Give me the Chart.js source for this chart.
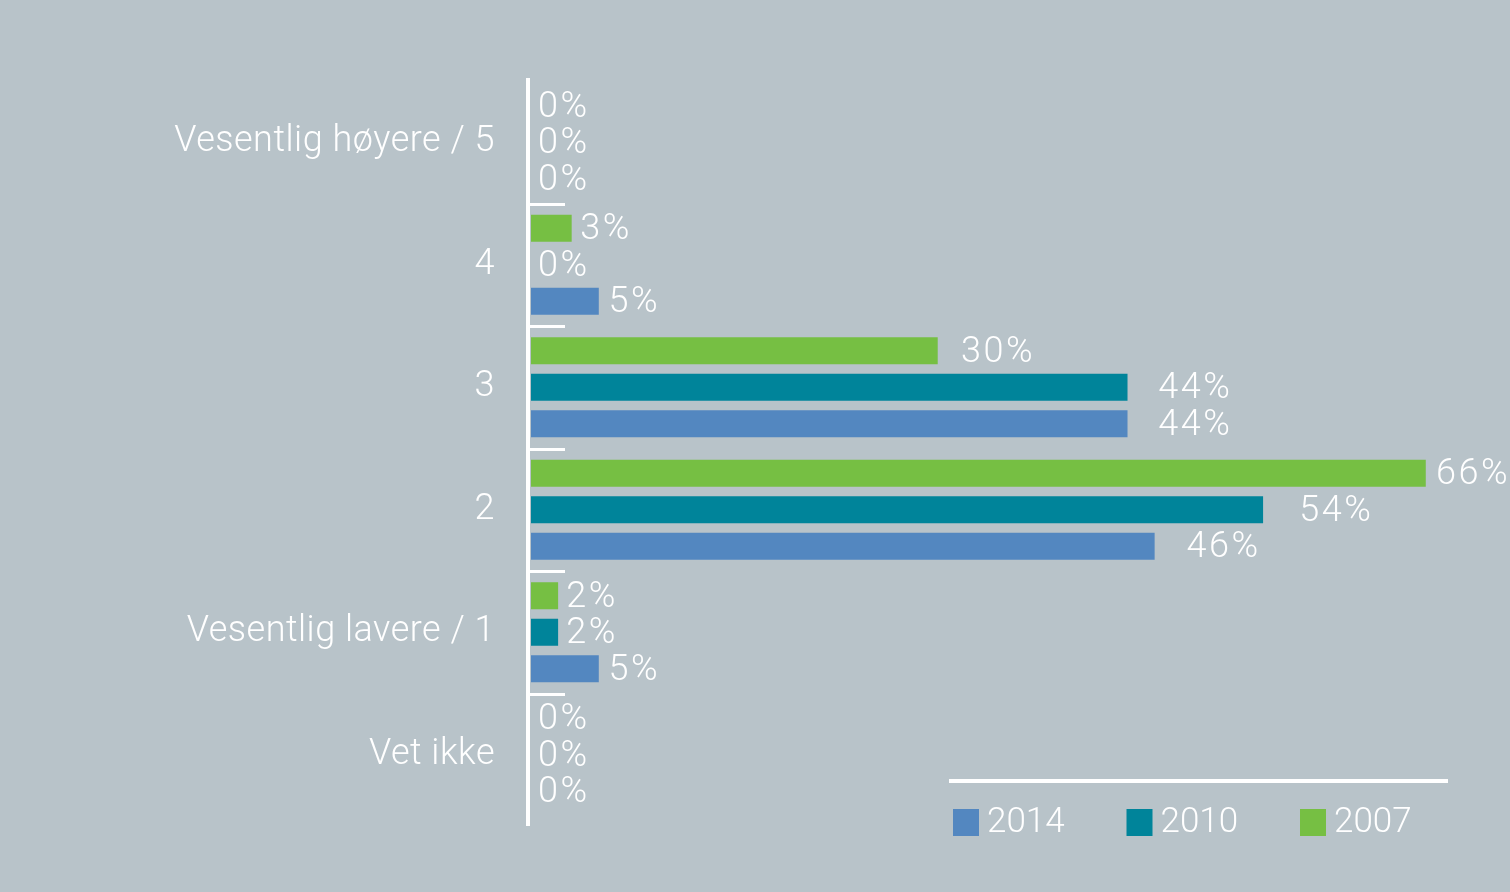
<!DOCTYPE html>
<html>
<head>
<meta charset="utf-8">
<script src="https://cdn.jsdelivr.net/npm/chart.js@4/dist/chart.umd.min.js"></script>
<style>
  html, body { margin: 0; padding: 0; background: #b8c3c9; }
  canvas { display: block; }
</style>
</head>
<body>
<canvas id="chart" width="1510" height="892"></canvas>
<script>
// categorias (de cima para baixo)
const categories = ['Vesentlig høyere / 5', '4', '3', '2', 'Vesentlig lavere / 1', 'Vet ikke'];
const seriesNames = ['2007', '2010', '2014'];
const values2007 = [0, 3, 30, 66, 2, 0];
const values2010 = [0, 0, 44, 54, 2, 0];
const values2014 = [0, 5, 44, 46, 5, 0];

const colors = { '2007': '#76bf43', '2010': '#00849a', '2014': '#5387c0' };
const bgColor = '#b8c3c9';
const fontFamily = 'Roboto, "Liberation Sans", sans-serif';

// fundo da figura
const backgroundPlugin = {
  id: 'background',
  beforeDraw(chart) {
    const ctx = chart.ctx;
    ctx.save();
    ctx.fillStyle = bgColor;
    ctx.fillRect(0, 0, chart.width, chart.height);
    ctx.restore();
    ctx.letterSpacing = '0.5px'; // espaçamento para os rótulos das categorias
  }
};

// eixo vertical branco + marcas curtas entre categorias
const axisPlugin = {
  id: 'axisDeco',
  afterDatasetsDraw(chart) {
    const { ctx, chartArea, scales } = chart;
    const y = scales.y;
    ctx.save();
    ctx.fillStyle = '#ffffff';
    ctx.fillRect(chartArea.left - 5, chartArea.top - 3, 4, chartArea.bottom - chartArea.top + 13);
    for (let i = 1; i < categories.length; i++) {
      const yy = (y.getPixelForValue(i - 1) + y.getPixelForValue(i)) / 2;
      ctx.fillRect(chartArea.left - 1, Math.round(yy) - 1, 35, 3);
    }
    ctx.restore();
  }
};

// rótulos de valor
const valueLabelsPlugin = {
  id: 'valueLabels',
  afterDatasetsDraw(chart) {
    const { ctx, scales } = chart;
    ctx.save();
    ctx.font = '300 36px ' + fontFamily;
    ctx.letterSpacing = '2.5px';
    ctx.fillStyle = '#ffffff';
    ctx.textBaseline = 'middle';
    ctx.textAlign = 'left';
    chart.data.datasets.forEach((ds, di) => {
      const meta = chart.getDatasetMeta(di);
      meta.data.forEach((bar, i) => {
        const v = ds.data[i];
        const text = v + '%';
        const w = ctx.measureText(text).width;
        let x = scales.x.getPixelForValue(v * 1.04) + 7;
        if (x + w > chart.width) x = chart.width - w;
        ctx.fillText(text, x, bar.y + 2);
      });
    });
    ctx.restore();
  }
};

// legenda personalizada no canto inferior direito
const legendPlugin = {
  id: 'customLegend',
  afterDraw(chart) {
    const ctx = chart.ctx;
    ctx.save();
    ctx.letterSpacing = '0px';
    ctx.fillStyle = '#ffffff';
    ctx.fillRect(949, 779, 499, 4);
    ctx.font = '300 35px ' + fontFamily;
    ctx.textBaseline = 'middle';
    ctx.textAlign = 'left';
    const order = chart.data.datasets.slice().reverse();
    order.forEach((ds, i) => {
      const x = 953 + i * 173.5;
      ctx.fillStyle = ds.backgroundColor;
      ctx.fillRect(x, 809, 26, 27);
      ctx.fillStyle = '#ffffff';
      ctx.fillText(ds.label, x + 34, 823);
    });
    ctx.restore();
  }
};

const ctx = document.getElementById('chart').getContext('2d');
new Chart(ctx, {
  type: 'bar',
  data: {
    labels: categories,
    datasets: [
      { label: seriesNames[0], data: values2007, backgroundColor: colors['2007'] },
      { label: seriesNames[1], data: values2010, backgroundColor: colors['2010'] },
      { label: seriesNames[2], data: values2014, backgroundColor: colors['2014'] }
    ]
  },
  options: {
    responsive: false,
    animation: false,
    indexAxis: 'y',
    categoryPercentage: 0.894,
    barPercentage: 0.74,
    layout: { padding: { left: 0, right: 30, top: 81, bottom: 76 } },
    scales: {
      x: {
        display: false,
        min: 0,
        max: 70
      },
      y: {
        grid: { display: false, drawTicks: false },
        border: { display: false },
        ticks: {
          color: '#ffffff',
          padding: 36,
          labelOffset: 0,
          font: { family: fontFamily, size: 36, weight: '300' }
        },
        afterFit(scale) { scale.width = 531; }
      }
    },
    plugins: {
      legend: { display: false },
      tooltip: { enabled: false }
    }
  },
  plugins: [backgroundPlugin, axisPlugin, valueLabelsPlugin, legendPlugin]
});
</script>
</body>
</html>
